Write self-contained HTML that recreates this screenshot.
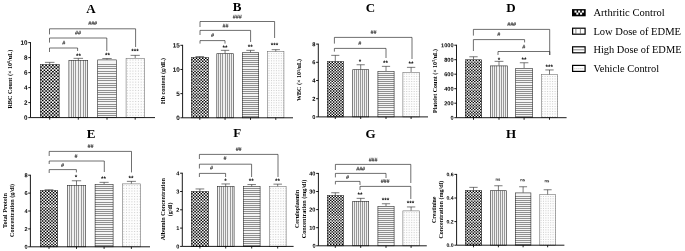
<!DOCTYPE html>
<html><head><meta charset="utf-8"><title>Figure</title>
<style>html,body{margin:0;padding:0;background:#fff}svg{display:block}</style></head>
<body>
<svg width="685" height="251" viewBox="0 0 685 251">
<defs></defs>
<rect width="685" height="251" fill="#fff"/>
<g>
<text x="91" y="13" font-family='"Liberation Serif", serif' font-weight="bold" font-size="13" text-anchor="middle" fill="#000">A</text>
<svg x="40" y="64" width="19.4" height="53.6" overflow="hidden"><rect width="19.4" height="53.6" fill="#fff"/><path d="M2.7 0.6V53.6M6.1 0.6V53.6M9.5 0.6V53.6M12.9 0.6V53.6M16.3 0.6V53.6M19.7 0.6V53.6" stroke="#000" stroke-width="1.68" stroke-dasharray="1.57 1.63" fill="none"/><path d="M1 0.6V53.6M4.4 0.6V53.6M7.8 0.6V53.6M11.2 0.6V53.6M14.6 0.6V53.6M18 0.6V53.6M21.4 0.6V53.6" stroke="#000" stroke-width="1.68" stroke-dasharray="1.57 1.63" stroke-dashoffset="1.6" fill="none"/></svg>
<rect x="40.3" y="64.3" width="18.8" height="53.3" fill="none" stroke="#2a2a2a" stroke-width="0.6"/>
<path d="M49.7 64V62.35M44.95 62.35H54.45" stroke="#222" stroke-width="0.6" fill="none"/>
<path d="M49.7 117.6v2.1" stroke="#000" stroke-width="0.85"/>
<svg x="68.6" y="60" width="19.4" height="57.6" overflow="hidden"><rect width="19.4" height="57.6" fill="#f0f0f0"/><path d="M2.9 0V57.6M4.9 0V57.6M6.9 0V57.6M9.9 0V57.6M11.9 0V57.6M14.9 0V57.6M16.9 0V57.6" stroke="#999" stroke-width="1" fill="none"/></svg>
<rect x="68.9" y="60.3" width="18.8" height="57.3" fill="none" stroke="#2a2a2a" stroke-width="0.6"/>
<path d="M78.3 60V58.35M73.55 58.35H83.05" stroke="#222" stroke-width="0.6" fill="none"/>
<path d="M78.3 117.6v2.1" stroke="#000" stroke-width="0.85"/>
<text transform="translate(78.4 58.1) rotate(0.03)" font-family='"Liberation Sans", sans-serif' font-weight="bold" font-size="6.4" text-anchor="middle" fill="#000">**</text>
<svg x="97.4" y="59.6" width="19.2" height="58" overflow="hidden"><rect width="19.2" height="58" fill="#f4f4f4"/><path d="M0 4.9H19.2M0 6.9H19.2M0 8.9H19.2M0 11.9H19.2M0 13.9H19.2M0 16.9H19.2M0 18.9H19.2M0 20.9H19.2M0 23.9H19.2M0 25.9H19.2M0 27.9H19.2M0 30.9H19.2M0 32.9H19.2M0 34.9H19.2M0 37.9H19.2M0 39.9H19.2M0 41.9H19.2M0 44.9H19.2M0 46.9H19.2M0 48.9H19.2M0 51.9H19.2M0 53.9H19.2M0 55.9H19.2" stroke="#909090" stroke-width="1" fill="none"/></svg>
<rect x="97.7" y="59.9" width="18.6" height="57.7" fill="none" stroke="#2a2a2a" stroke-width="0.6"/>
<path d="M107 59.6V58.55M102.3 58.55H111.7" stroke="#222" stroke-width="0.6" fill="none"/>
<path d="M107 117.6v2.1" stroke="#000" stroke-width="0.85"/>
<text transform="translate(107.4 57.3) rotate(0.03)" font-family='"Liberation Sans", sans-serif' font-weight="bold" font-size="6.4" text-anchor="middle" fill="#000">**</text>
<svg x="125.8" y="58" width="18.8" height="59.6" overflow="hidden"><rect width="18.8" height="59.6" fill="#fdfdfd"/><path d="M1.6 1.6V59.6M4.36 1.6V59.6M7.12 1.6V59.6M9.89 1.6V59.6M12.65 1.6V59.6M15.41 1.6V59.6M18.17 1.6V59.6" stroke="#c4c4c4" stroke-width="0.9" stroke-dasharray="0.9 1.86" fill="none"/></svg>
<rect x="126.08" y="58.27" width="18.25" height="59.32" fill="none" stroke="#666" stroke-width="0.55"/>
<path d="M135.2 58V55.35M130.59 55.35H139.81" stroke="#222" stroke-width="0.6" fill="none"/>
<path d="M135.2 117.6v2.1" stroke="#000" stroke-width="0.85"/>
<text transform="translate(135 53.3) rotate(0.03)" font-family='"Liberation Sans", sans-serif' font-weight="bold" font-size="6.4" text-anchor="middle" fill="#000">***</text>
<path d="M30.5 42.15V117.6H155" stroke="#000" stroke-width="0.9" fill="none"/>
<path d="M28.3 117.6H30.5" stroke="#000" stroke-width="0.9"/>
<text transform="translate(27.6 119.87) rotate(0.03)" font-family='"Liberation Sans", sans-serif' font-weight="bold" font-size="6.343999999999999" text-anchor="end" fill="#000">0</text>
<path d="M28.3 102.6H30.5" stroke="#000" stroke-width="0.9"/>
<text transform="translate(27.6 104.87) rotate(0.03)" font-family='"Liberation Sans", sans-serif' font-weight="bold" font-size="6.343999999999999" text-anchor="end" fill="#000">2</text>
<path d="M28.3 87.6H30.5" stroke="#000" stroke-width="0.9"/>
<text transform="translate(27.6 89.87) rotate(0.03)" font-family='"Liberation Sans", sans-serif' font-weight="bold" font-size="6.343999999999999" text-anchor="end" fill="#000">4</text>
<path d="M28.3 72.6H30.5" stroke="#000" stroke-width="0.9"/>
<text transform="translate(27.6 74.87) rotate(0.03)" font-family='"Liberation Sans", sans-serif' font-weight="bold" font-size="6.343999999999999" text-anchor="end" fill="#000">6</text>
<path d="M28.3 57.6H30.5" stroke="#000" stroke-width="0.9"/>
<text transform="translate(27.6 59.87) rotate(0.03)" font-family='"Liberation Sans", sans-serif' font-weight="bold" font-size="6.343999999999999" text-anchor="end" fill="#000">8</text>
<path d="M28.3 42.6H30.5" stroke="#000" stroke-width="0.9"/>
<text transform="translate(27.6 44.87) rotate(0.03)" font-family='"Liberation Sans", sans-serif' font-weight="bold" font-size="6.343999999999999" text-anchor="end" fill="#000">10</text>
<path d="M49.5 34.4V28.8H135.6V47" stroke="#222" stroke-width="0.65" fill="none"/>
<text transform="translate(92.6 25) rotate(0.03)" font-family='"Liberation Sans", sans-serif' font-style="italic" font-size="5.25" text-anchor="middle" fill="#000" stroke="#000" stroke-width="0.12">###</text>
<path d="M49.5 42.6V38H106.8V51" stroke="#222" stroke-width="0.65" fill="none"/>
<text transform="translate(78 34.6) rotate(0.03)" font-family='"Liberation Sans", sans-serif' font-style="italic" font-size="5.25" text-anchor="middle" fill="#000" stroke="#000" stroke-width="0.12">##</text>
<path d="M49.5 52V48H77.6V51" stroke="#222" stroke-width="0.65" fill="none"/>
<text transform="translate(63.6 44.6) rotate(0.03)" font-family='"Liberation Sans", sans-serif' font-style="italic" font-size="5.25" text-anchor="middle" fill="#000" stroke="#000" stroke-width="0.12">#</text>
<text transform="translate(12 79.1) rotate(-90)" font-family='"Liberation Serif", serif' font-weight="bold" font-size="5.95" text-anchor="middle" textLength="59" lengthAdjust="spacingAndGlyphs" fill="#000">RBC Count (× 10<tspan dy="-1.9" font-size="3.8">6</tspan><tspan dy="1.9">/uL)</tspan></text>
</g>
<g>
<text x="237" y="11" font-family='"Liberation Serif", serif' font-weight="bold" font-size="13" text-anchor="middle" fill="#000">B</text>
<svg x="191" y="57" width="17.6" height="60.8" overflow="hidden"><rect width="17.6" height="60.8" fill="#fff"/><path d="M2.46 0.6V60.8M5.55 0.6V60.8M8.63 0.6V60.8M11.72 0.6V60.8M14.8 0.6V60.8M17.89 0.6V60.8" stroke="#000" stroke-width="1.52" stroke-dasharray="1.42 1.48" fill="none"/><path d="M0.92 0.6V60.8M4.01 0.6V60.8M7.09 0.6V60.8M10.17 0.6V60.8M13.26 0.6V60.8M16.34 0.6V60.8M19.43 0.6V60.8" stroke="#000" stroke-width="1.52" stroke-dasharray="1.42 1.48" stroke-dashoffset="1.45" fill="none"/></svg>
<rect x="191.3" y="57.3" width="17" height="60.5" fill="none" stroke="#2a2a2a" stroke-width="0.6"/>
<path d="M199.8 57V56.55M195.49 56.55H204.11" stroke="#222" stroke-width="0.6" fill="none"/>
<path d="M199.8 117.8v2.1" stroke="#000" stroke-width="0.85"/>
<svg x="216.5" y="53.4" width="17.1" height="64.4" overflow="hidden"><rect width="17.1" height="64.4" fill="#f0f0f0"/><path d="M2 0V64.4M4 0V64.4M6 0V64.4M9 0V64.4M11 0V64.4M13 0V64.4M15 0V64.4" stroke="#999" stroke-width="1" fill="none"/></svg>
<rect x="216.8" y="53.7" width="16.5" height="64.1" fill="none" stroke="#2a2a2a" stroke-width="0.6"/>
<path d="M225.05 53.4V50.35M220.86 50.35H229.24" stroke="#222" stroke-width="0.6" fill="none"/>
<path d="M225.05 117.8v2.1" stroke="#000" stroke-width="0.85"/>
<text transform="translate(225 49.7) rotate(0.03)" font-family='"Liberation Sans", sans-serif' font-weight="bold" font-size="6.4" text-anchor="middle" fill="#000">**</text>
<svg x="242" y="52.4" width="17" height="65.4" overflow="hidden"><rect width="17" height="65.4" fill="#f4f4f4"/><path d="M0 2.1H17M0 4.1H17M0 6.1H17M0 8.1H17M0 10.1H17M0 12.1H17M0 14.1H17M0 17.1H17M0 19.1H17M0 21.1H17M0 23.1H17M0 25.1H17M0 27.1H17M0 29.1H17M0 31.1H17M0 33.1H17M0 35.1H17M0 37.1H17M0 39.1H17M0 41.1H17M0 44.1H17M0 46.1H17M0 48.1H17M0 50.1H17M0 52.1H17M0 54.1H17M0 56.1H17M0 58.1H17M0 60.1H17M0 62.1H17M0 64.1H17" stroke="#909090" stroke-width="1" fill="none"/></svg>
<rect x="242.3" y="52.7" width="16.4" height="65.1" fill="none" stroke="#2a2a2a" stroke-width="0.6"/>
<path d="M250.5 52.4V50.35M246.34 50.35H254.66" stroke="#222" stroke-width="0.6" fill="none"/>
<path d="M250.5 117.8v2.1" stroke="#000" stroke-width="0.85"/>
<text transform="translate(250.3 49.1) rotate(0.03)" font-family='"Liberation Sans", sans-serif' font-weight="bold" font-size="6.4" text-anchor="middle" fill="#000">**</text>
<svg x="267.4" y="51.4" width="16.8" height="66.4" overflow="hidden"><rect width="16.8" height="66.4" fill="#fdfdfd"/><path d="M1.6 1.6V66.4M4.07 1.6V66.4M6.54 1.6V66.4M9 1.6V66.4M11.47 1.6V66.4M13.94 1.6V66.4M16.41 1.6V66.4" stroke="#c4c4c4" stroke-width="0.9" stroke-dasharray="0.9 1.57" fill="none"/></svg>
<rect x="267.67" y="51.67" width="16.25" height="66.12" fill="none" stroke="#666" stroke-width="0.55"/>
<path d="M275.8 51.4V49.65M271.68 49.65H279.92" stroke="#222" stroke-width="0.6" fill="none"/>
<path d="M275.8 117.8v2.1" stroke="#000" stroke-width="0.85"/>
<text transform="translate(274.5 47.3) rotate(0.03)" font-family='"Liberation Sans", sans-serif' font-weight="bold" font-size="6.4" text-anchor="middle" fill="#000">***</text>
<path d="M182.6 44.85V117.8H293" stroke="#000" stroke-width="0.9" fill="none"/>
<path d="M180.4 117.8H182.6" stroke="#000" stroke-width="0.9"/>
<text transform="translate(179.7 120.07) rotate(0.03)" font-family='"Liberation Sans", sans-serif' font-weight="bold" font-size="6.343999999999999" text-anchor="end" fill="#000">0</text>
<path d="M180.4 93.63H182.6" stroke="#000" stroke-width="0.9"/>
<text transform="translate(179.7 95.9) rotate(0.03)" font-family='"Liberation Sans", sans-serif' font-weight="bold" font-size="6.343999999999999" text-anchor="end" fill="#000">5</text>
<path d="M180.4 69.47H182.6" stroke="#000" stroke-width="0.9"/>
<text transform="translate(179.7 71.74) rotate(0.03)" font-family='"Liberation Sans", sans-serif' font-weight="bold" font-size="6.343999999999999" text-anchor="end" fill="#000">10</text>
<path d="M180.4 45.3H182.6" stroke="#000" stroke-width="0.9"/>
<text transform="translate(179.7 47.57) rotate(0.03)" font-family='"Liberation Sans", sans-serif' font-weight="bold" font-size="6.343999999999999" text-anchor="end" fill="#000">15</text>
<path d="M200 27V21.5H274.6V38" stroke="#222" stroke-width="0.65" fill="none"/>
<text transform="translate(237.2 18.6) rotate(0.03)" font-family='"Liberation Sans", sans-serif' font-style="italic" font-size="5.25" text-anchor="middle" fill="#000" stroke="#000" stroke-width="0.12">###</text>
<path d="M200 35V30.4H250.6V42" stroke="#222" stroke-width="0.65" fill="none"/>
<text transform="translate(225.4 27.4) rotate(0.03)" font-family='"Liberation Sans", sans-serif' font-style="italic" font-size="5.25" text-anchor="middle" fill="#000" stroke="#000" stroke-width="0.12">##</text>
<path d="M200 43.6V40.6H225V43.6" stroke="#222" stroke-width="0.65" fill="none"/>
<text transform="translate(212.4 37) rotate(0.03)" font-family='"Liberation Sans", sans-serif' font-style="italic" font-size="5.25" text-anchor="middle" fill="#000" stroke="#000" stroke-width="0.12">#</text>
<text transform="translate(165.1 81) rotate(-90)" font-family='"Liberation Serif", serif' font-weight="bold" font-size="5.95" text-anchor="middle" textLength="46" lengthAdjust="spacingAndGlyphs" fill="#000">Hb content (g/dL)</text>
</g>
<g>
<text x="370.5" y="12.4" font-family='"Liberation Serif", serif' font-weight="bold" font-size="13" text-anchor="middle" fill="#000">C</text>
<svg x="327" y="61" width="16.6" height="55.9" overflow="hidden"><rect width="16.6" height="55.9" fill="#fff"/><path d="M2.33 0.6V55.9M5.24 0.6V55.9M8.15 0.6V55.9M11.06 0.6V55.9M13.97 0.6V55.9M16.88 0.6V55.9" stroke="#000" stroke-width="1.44" stroke-dasharray="1.34 1.4" fill="none"/><path d="M0.88 0.6V55.9M3.79 0.6V55.9M6.7 0.6V55.9M9.61 0.6V55.9M12.51 0.6V55.9M15.42 0.6V55.9M18.33 0.6V55.9" stroke="#000" stroke-width="1.44" stroke-dasharray="1.34 1.4" stroke-dashoffset="1.37" fill="none"/></svg>
<rect x="327.3" y="61.3" width="16" height="55.6" fill="none" stroke="#2a2a2a" stroke-width="0.6"/>
<path d="M335.3 61V55.35M331.23 55.35H339.37" stroke="#222" stroke-width="0.6" fill="none"/>
<path d="M335.3 116.9v2.1" stroke="#000" stroke-width="0.85"/>
<svg x="352.4" y="69.4" width="16.6" height="47.5" overflow="hidden"><rect width="16.6" height="47.5" fill="#f0f0f0"/><path d="M2.1 0V47.5M4.1 0V47.5M6.1 0V47.5M8.1 0V47.5M10.1 0V47.5M12.1 0V47.5M14.1 0V47.5" stroke="#999" stroke-width="1" fill="none"/></svg>
<rect x="352.7" y="69.7" width="16" height="47.2" fill="none" stroke="#2a2a2a" stroke-width="0.6"/>
<path d="M360.7 69.4V64.75M356.63 64.75H364.77" stroke="#222" stroke-width="0.6" fill="none"/>
<path d="M360.7 116.9v2.1" stroke="#000" stroke-width="0.85"/>
<text transform="translate(360 63.7) rotate(0.03)" font-family='"Liberation Sans", sans-serif' font-weight="bold" font-size="6.4" text-anchor="middle" fill="#000">*</text>
<svg x="377.6" y="71" width="16.8" height="45.9" overflow="hidden"><rect width="16.8" height="45.9" fill="#f4f4f4"/><path d="M0 2.5H16.8M0 4.5H16.8M0 6.5H16.8M0 8.5H16.8M0 10.5H16.8M0 12.5H16.8M0 14.5H16.8M0 16.5H16.8M0 18.5H16.8M0 20.5H16.8M0 22.5H16.8M0 24.5H16.8M0 26.5H16.8M0 28.5H16.8M0 30.5H16.8M0 32.5H16.8M0 34.5H16.8M0 36.5H16.8M0 39.5H16.8M0 41.5H16.8M0 43.5H16.8" stroke="#909090" stroke-width="1" fill="none"/></svg>
<rect x="377.9" y="71.3" width="16.2" height="45.6" fill="none" stroke="#2a2a2a" stroke-width="0.6"/>
<path d="M386 71V66.35M381.88 66.35H390.12" stroke="#222" stroke-width="0.6" fill="none"/>
<path d="M386 116.9v2.1" stroke="#000" stroke-width="0.85"/>
<text transform="translate(385.6 65.1) rotate(0.03)" font-family='"Liberation Sans", sans-serif' font-weight="bold" font-size="6.4" text-anchor="middle" fill="#000">**</text>
<svg x="402.6" y="72" width="17" height="44.9" overflow="hidden"><rect width="17" height="44.9" fill="#fdfdfd"/><path d="M1.6 1.6V44.9M4.1 1.6V44.9M6.59 1.6V44.9M9.09 1.6V44.9M11.59 1.6V44.9M14.09 1.6V44.9M16.58 1.6V44.9" stroke="#c4c4c4" stroke-width="0.9" stroke-dasharray="0.9 1.6" fill="none"/></svg>
<rect x="402.88" y="72.28" width="16.45" height="44.63" fill="none" stroke="#666" stroke-width="0.55"/>
<path d="M411.1 72V67.35M406.94 67.35H415.27" stroke="#222" stroke-width="0.6" fill="none"/>
<path d="M411.1 116.9v2.1" stroke="#000" stroke-width="0.85"/>
<text transform="translate(411 65.7) rotate(0.03)" font-family='"Liberation Sans", sans-serif' font-weight="bold" font-size="6.4" text-anchor="middle" fill="#000">**</text>
<path d="M318.3 43.65V116.9H428" stroke="#000" stroke-width="0.9" fill="none"/>
<path d="M316.1 116.9H318.3" stroke="#000" stroke-width="0.9"/>
<text transform="translate(315.4 118.95) rotate(0.03)" font-family='"Liberation Sans", sans-serif' font-weight="bold" font-size="5.720000000000001" text-anchor="end" fill="#000">0</text>
<path d="M316.1 98.7H318.3" stroke="#000" stroke-width="0.9"/>
<text transform="translate(315.4 100.75) rotate(0.03)" font-family='"Liberation Sans", sans-serif' font-weight="bold" font-size="5.720000000000001" text-anchor="end" fill="#000">2</text>
<path d="M316.1 80.5H318.3" stroke="#000" stroke-width="0.9"/>
<text transform="translate(315.4 82.55) rotate(0.03)" font-family='"Liberation Sans", sans-serif' font-weight="bold" font-size="5.720000000000001" text-anchor="end" fill="#000">4</text>
<path d="M316.1 62.3H318.3" stroke="#000" stroke-width="0.9"/>
<text transform="translate(315.4 64.35) rotate(0.03)" font-family='"Liberation Sans", sans-serif' font-weight="bold" font-size="5.720000000000001" text-anchor="end" fill="#000">6</text>
<path d="M316.1 44.1H318.3" stroke="#000" stroke-width="0.9"/>
<text transform="translate(315.4 46.15) rotate(0.03)" font-family='"Liberation Sans", sans-serif' font-weight="bold" font-size="5.720000000000001" text-anchor="end" fill="#000">8</text>
<path d="M334.4 43.6V37.4H412V59" stroke="#222" stroke-width="0.65" fill="none"/>
<text transform="translate(373.4 34) rotate(0.03)" font-family='"Liberation Sans", sans-serif' font-style="italic" font-size="5.25" text-anchor="middle" fill="#000" stroke="#000" stroke-width="0.12">##</text>
<path d="M334.4 51.6V48.4H386V58" stroke="#222" stroke-width="0.65" fill="none"/>
<text transform="translate(359.6 45) rotate(0.03)" font-family='"Liberation Sans", sans-serif' font-style="italic" font-size="5.25" text-anchor="middle" fill="#000" stroke="#000" stroke-width="0.12">#</text>
<text transform="translate(301.4 80) rotate(-90)" font-family='"Liberation Serif", serif' font-weight="bold" font-size="5.95" text-anchor="middle" textLength="42" lengthAdjust="spacingAndGlyphs" fill="#000">WBC (× 10<tspan dy="-1.9" font-size="3.8">3</tspan><tspan dy="1.9">/uL)</tspan></text>
</g>
<g>
<text x="511" y="11.6" font-family='"Liberation Serif", serif' font-weight="bold" font-size="13" text-anchor="middle" fill="#000">D</text>
<svg x="465" y="59.4" width="17" height="58.3" overflow="hidden"><rect width="17" height="58.3" fill="#fff"/><path d="M2.38 0.6V58.3M5.36 0.6V58.3M8.34 0.6V58.3M11.32 0.6V58.3M14.3 0.6V58.3M17.28 0.6V58.3" stroke="#000" stroke-width="1.47" stroke-dasharray="1.37 1.43" fill="none"/><path d="M0.89 0.6V58.3M3.87 0.6V58.3M6.85 0.6V58.3M9.83 0.6V58.3M12.81 0.6V58.3M15.79 0.6V58.3M18.77 0.6V58.3" stroke="#000" stroke-width="1.47" stroke-dasharray="1.37 1.43" stroke-dashoffset="1.4" fill="none"/></svg>
<rect x="465.3" y="59.7" width="16.4" height="58" fill="none" stroke="#2a2a2a" stroke-width="0.6"/>
<path d="M473.5 59.4V56.75M469.33 56.75H477.67" stroke="#222" stroke-width="0.6" fill="none"/>
<path d="M473.5 117.7v2.1" stroke="#000" stroke-width="0.85"/>
<svg x="490" y="65.6" width="18" height="52.1" overflow="hidden"><rect width="18" height="52.1" fill="#f0f0f0"/><path d="M2.5 0V52.1M4.5 0V52.1M6.5 0V52.1M9.5 0V52.1M11.5 0V52.1M13.5 0V52.1M15.5 0V52.1" stroke="#999" stroke-width="1" fill="none"/></svg>
<rect x="490.3" y="65.9" width="17.4" height="51.8" fill="none" stroke="#2a2a2a" stroke-width="0.6"/>
<path d="M499 65.6V61.35M494.59 61.35H503.41" stroke="#222" stroke-width="0.6" fill="none"/>
<path d="M499 117.7v2.1" stroke="#000" stroke-width="0.85"/>
<text transform="translate(499 62.1) rotate(0.03)" font-family='"Liberation Sans", sans-serif' font-weight="bold" font-size="6.4" text-anchor="middle" fill="#000">*</text>
<svg x="515.4" y="68" width="17.4" height="49.7" overflow="hidden"><rect width="17.4" height="49.7" fill="#f4f4f4"/><path d="M0 2.5H17.4M0 4.5H17.4M0 6.5H17.4M0 8.5H17.4M0 10.5H17.4M0 12.5H17.4M0 14.5H17.4M0 17.5H17.4M0 19.5H17.4M0 21.5H17.4M0 23.5H17.4M0 25.5H17.4M0 27.5H17.4M0 29.5H17.4M0 31.5H17.4M0 34.5H17.4M0 36.5H17.4M0 38.5H17.4M0 40.5H17.4M0 42.5H17.4M0 44.5H17.4M0 46.5H17.4M0 48.5H17.4" stroke="#909090" stroke-width="1" fill="none"/></svg>
<rect x="515.7" y="68.3" width="16.8" height="49.4" fill="none" stroke="#2a2a2a" stroke-width="0.6"/>
<path d="M524.1 68V62.75M519.84 62.75H528.36" stroke="#222" stroke-width="0.6" fill="none"/>
<path d="M524.1 117.7v2.1" stroke="#000" stroke-width="0.85"/>
<text transform="translate(524 61.7) rotate(0.03)" font-family='"Liberation Sans", sans-serif' font-weight="bold" font-size="6.4" text-anchor="middle" fill="#000">**</text>
<svg x="541" y="74.4" width="17" height="43.3" overflow="hidden"><rect width="17" height="43.3" fill="#fdfdfd"/><path d="M1.6 1.6V43.3M4.1 1.6V43.3M6.59 1.6V43.3M9.09 1.6V43.3M11.59 1.6V43.3M14.09 1.6V43.3M16.58 1.6V43.3" stroke="#c4c4c4" stroke-width="0.9" stroke-dasharray="0.9 1.6" fill="none"/></svg>
<rect x="541.27" y="74.68" width="16.45" height="43.02" fill="none" stroke="#666" stroke-width="0.55"/>
<path d="M549.5 74.4V69.95M545.34 69.95H553.66" stroke="#222" stroke-width="0.6" fill="none"/>
<path d="M549.5 117.7v2.1" stroke="#000" stroke-width="0.85"/>
<text transform="translate(549.2 68.9) rotate(0.03)" font-family='"Liberation Sans", sans-serif' font-weight="bold" font-size="6.4" text-anchor="middle" fill="#000">***</text>
<path d="M456.5 44.75V117.7H566.6" stroke="#000" stroke-width="0.9" fill="none"/>
<path d="M454.3 117.7H456.5" stroke="#000" stroke-width="0.9"/>
<text transform="translate(453.6 119.71) rotate(0.03)" font-family='"Liberation Sans", sans-serif' font-weight="bold" font-size="5.6160000000000005" text-anchor="end" fill="#000">0</text>
<path d="M454.3 103.2H456.5" stroke="#000" stroke-width="0.9"/>
<text transform="translate(453.6 105.21) rotate(0.03)" font-family='"Liberation Sans", sans-serif' font-weight="bold" font-size="5.6160000000000005" text-anchor="end" fill="#000">200</text>
<path d="M454.3 88.7H456.5" stroke="#000" stroke-width="0.9"/>
<text transform="translate(453.6 90.71) rotate(0.03)" font-family='"Liberation Sans", sans-serif' font-weight="bold" font-size="5.6160000000000005" text-anchor="end" fill="#000">400</text>
<path d="M454.3 74.2H456.5" stroke="#000" stroke-width="0.9"/>
<text transform="translate(453.6 76.21) rotate(0.03)" font-family='"Liberation Sans", sans-serif' font-weight="bold" font-size="5.6160000000000005" text-anchor="end" fill="#000">600</text>
<path d="M454.3 59.7H456.5" stroke="#000" stroke-width="0.9"/>
<text transform="translate(453.6 61.71) rotate(0.03)" font-family='"Liberation Sans", sans-serif' font-weight="bold" font-size="5.6160000000000005" text-anchor="end" fill="#000">800</text>
<path d="M454.3 45.2H456.5" stroke="#000" stroke-width="0.9"/>
<text transform="translate(453.6 47.21) rotate(0.03)" font-family='"Liberation Sans", sans-serif' font-weight="bold" font-size="5.6160000000000005" text-anchor="end" fill="#000">1000</text>
<path d="M473.4 35.6V29.4H549.7V55" stroke="#222" stroke-width="0.65" fill="none"/>
<text transform="translate(511.6 26) rotate(0.03)" font-family='"Liberation Sans", sans-serif' font-style="italic" font-size="5.25" text-anchor="middle" fill="#000" stroke="#000" stroke-width="0.12">###</text>
<path d="M473.4 51V39.6H524.6V42.4" stroke="#222" stroke-width="0.65" fill="none"/>
<text transform="translate(498.6 36) rotate(0.03)" font-family='"Liberation Sans", sans-serif' font-style="italic" font-size="5.25" text-anchor="middle" fill="#000" stroke="#000" stroke-width="0.12">#</text>
<path d="M498 55V51.5H549.8V55" stroke="#222" stroke-width="0.65" fill="none"/>
<text transform="translate(523.6 48.4) rotate(0.03)" font-family='"Liberation Sans", sans-serif' font-style="italic" font-size="5.25" text-anchor="middle" fill="#000" stroke="#000" stroke-width="0.12">#</text>
<text transform="translate(437.1 81) rotate(-90)" font-family='"Liberation Serif", serif' font-weight="bold" font-size="5.95" text-anchor="middle" textLength="64" lengthAdjust="spacingAndGlyphs" fill="#000">Platelet Count (× 10<tspan dy="-1.9" font-size="3.8">3</tspan><tspan dy="1.9">/uL)</tspan></text>
</g>
<g>
<text x="91" y="138" font-family='"Liberation Serif", serif' font-weight="bold" font-size="13" text-anchor="middle" fill="#000">E</text>
<svg x="40" y="190" width="18" height="56.8" overflow="hidden"><rect width="18" height="56.8" fill="#fff"/><path d="M2.52 0.6V56.8M5.67 0.6V56.8M8.83 0.6V56.8M11.98 0.6V56.8M15.13 0.6V56.8M18.29 0.6V56.8" stroke="#000" stroke-width="1.56" stroke-dasharray="1.45 1.51" fill="none"/><path d="M0.94 0.6V56.8M4.09 0.6V56.8M7.25 0.6V56.8M10.4 0.6V56.8M13.56 0.6V56.8M16.71 0.6V56.8M19.87 0.6V56.8" stroke="#000" stroke-width="1.56" stroke-dasharray="1.45 1.51" stroke-dashoffset="1.48" fill="none"/></svg>
<rect x="40.3" y="190.3" width="17.4" height="56.5" fill="none" stroke="#2a2a2a" stroke-width="0.6"/>
<path d="M49 190V189.75M44.59 189.75H53.41" stroke="#222" stroke-width="0.6" fill="none"/>
<path d="M49 246.8v2.1" stroke="#000" stroke-width="0.85"/>
<svg x="67" y="185" width="19" height="61.8" overflow="hidden"><rect width="19" height="61.8" fill="#f0f0f0"/><path d="M2.5 0V61.8M4.5 0V61.8M7.5 0V61.8M9.5 0V61.8M11.5 0V61.8M14.5 0V61.8M16.5 0V61.8" stroke="#999" stroke-width="1" fill="none"/></svg>
<rect x="67.3" y="185.3" width="18.4" height="61.5" fill="none" stroke="#2a2a2a" stroke-width="0.6"/>
<path d="M76.5 185V180.75M71.84 180.75H81.16" stroke="#222" stroke-width="0.6" fill="none"/>
<path d="M76.5 246.8v2.1" stroke="#000" stroke-width="0.85"/>
<text transform="translate(76 179.3) rotate(0.03)" font-family='"Liberation Sans", sans-serif' font-weight="bold" font-size="6.4" text-anchor="middle" fill="#000">*</text>
<svg x="94.8" y="184" width="18.6" height="62.8" overflow="hidden"><rect width="18.6" height="62.8" fill="#f4f4f4"/><path d="M0 2.5H18.6M0 4.5H18.6M0 6.5H18.6M0 9.5H18.6M0 11.5H18.6M0 13.5H18.6M0 15.5H18.6M0 18.5H18.6M0 20.5H18.6M0 22.5H18.6M0 25.5H18.6M0 27.5H18.6M0 29.5H18.6M0 31.5H18.6M0 34.5H18.6M0 36.5H18.6M0 38.5H18.6M0 40.5H18.6M0 43.5H18.6M0 45.5H18.6M0 47.5H18.6M0 50.5H18.6M0 52.5H18.6M0 54.5H18.6M0 56.5H18.6M0 59.5H18.6M0 61.5H18.6" stroke="#909090" stroke-width="1" fill="none"/></svg>
<rect x="95.1" y="184.3" width="18" height="62.5" fill="none" stroke="#2a2a2a" stroke-width="0.6"/>
<path d="M104.1 184V182.35M99.54 182.35H108.66" stroke="#222" stroke-width="0.6" fill="none"/>
<path d="M104.1 246.8v2.1" stroke="#000" stroke-width="0.85"/>
<text transform="translate(103.6 180.7) rotate(0.03)" font-family='"Liberation Sans", sans-serif' font-weight="bold" font-size="6.4" text-anchor="middle" fill="#000">**</text>
<svg x="122.2" y="183.6" width="18.4" height="63.2" overflow="hidden"><rect width="18.4" height="63.2" fill="#fdfdfd"/><path d="M1.6 1.6V63.2M4.3 1.6V63.2M7.01 1.6V63.2M9.71 1.6V63.2M12.41 1.6V63.2M15.12 1.6V63.2M17.82 1.6V63.2" stroke="#c4c4c4" stroke-width="0.9" stroke-dasharray="0.9 1.8" fill="none"/></svg>
<rect x="122.48" y="183.88" width="17.85" height="62.93" fill="none" stroke="#666" stroke-width="0.55"/>
<path d="M131.4 183.6V181.35M126.89 181.35H135.91" stroke="#222" stroke-width="0.6" fill="none"/>
<path d="M131.4 246.8v2.1" stroke="#000" stroke-width="0.85"/>
<text transform="translate(131 180.3) rotate(0.03)" font-family='"Liberation Sans", sans-serif' font-weight="bold" font-size="6.4" text-anchor="middle" fill="#000">**</text>
<path d="M30.4 174.75V246.8H150" stroke="#000" stroke-width="0.9" fill="none"/>
<path d="M28.2 246.8H30.4" stroke="#000" stroke-width="0.9"/>
<text transform="translate(27.5 248.81) rotate(0.03)" font-family='"Liberation Sans", sans-serif' font-weight="bold" font-size="5.6160000000000005" text-anchor="end" fill="#000">0</text>
<path d="M28.2 228.9H30.4" stroke="#000" stroke-width="0.9"/>
<text transform="translate(27.5 230.91) rotate(0.03)" font-family='"Liberation Sans", sans-serif' font-weight="bold" font-size="5.6160000000000005" text-anchor="end" fill="#000">2</text>
<path d="M28.2 211H30.4" stroke="#000" stroke-width="0.9"/>
<text transform="translate(27.5 213.01) rotate(0.03)" font-family='"Liberation Sans", sans-serif' font-weight="bold" font-size="5.6160000000000005" text-anchor="end" fill="#000">4</text>
<path d="M28.2 193.1H30.4" stroke="#000" stroke-width="0.9"/>
<text transform="translate(27.5 195.11) rotate(0.03)" font-family='"Liberation Sans", sans-serif' font-weight="bold" font-size="5.6160000000000005" text-anchor="end" fill="#000">6</text>
<path d="M28.2 175.2H30.4" stroke="#000" stroke-width="0.9"/>
<text transform="translate(27.5 177.21) rotate(0.03)" font-family='"Liberation Sans", sans-serif' font-weight="bold" font-size="5.6160000000000005" text-anchor="end" fill="#000">8</text>
<path d="M49.2 156V151.4H131.5V172.4" stroke="#222" stroke-width="0.65" fill="none"/>
<text transform="translate(90.4 148) rotate(0.03)" font-family='"Liberation Sans", sans-serif' font-style="italic" font-size="5.25" text-anchor="middle" fill="#000" stroke="#000" stroke-width="0.12">##</text>
<path d="M49.2 164V161H104.3V172" stroke="#222" stroke-width="0.65" fill="none"/>
<text transform="translate(76 158) rotate(0.03)" font-family='"Liberation Sans", sans-serif' font-style="italic" font-size="5.25" text-anchor="middle" fill="#000" stroke="#000" stroke-width="0.12">#</text>
<path d="M49.2 173V169.6H76.4V172.4" stroke="#222" stroke-width="0.65" fill="none"/>
<text transform="translate(62.4 167) rotate(0.03)" font-family='"Liberation Sans", sans-serif' font-style="italic" font-size="5.25" text-anchor="middle" fill="#000" stroke="#000" stroke-width="0.12">#</text>
<text transform="translate(6.7 210.6) rotate(-90)" font-family='"Liberation Serif", serif' font-weight="bold" font-size="5.95" text-anchor="middle" textLength="35" lengthAdjust="spacingAndGlyphs" fill="#000">Total Protein</text>
<text transform="translate(14.1 210.5) rotate(-90)" font-family='"Liberation Serif", serif' font-weight="bold" font-size="5.95" text-anchor="middle" textLength="53" lengthAdjust="spacingAndGlyphs" fill="#000">Concentration (g/dl)</text>
</g>
<g>
<text x="237.3" y="137" font-family='"Liberation Serif", serif' font-weight="bold" font-size="13" text-anchor="middle" fill="#000">F</text>
<svg x="191" y="191" width="17.8" height="55.4" overflow="hidden"><rect width="17.8" height="55.4" fill="#fff"/><path d="M2.49 0.6V55.4M5.61 0.6V55.4M8.73 0.6V55.4M11.85 0.6V55.4M14.97 0.6V55.4M18.09 0.6V55.4" stroke="#000" stroke-width="1.54" stroke-dasharray="1.44 1.5" fill="none"/><path d="M0.93 0.6V55.4M4.05 0.6V55.4M7.17 0.6V55.4M10.29 0.6V55.4M13.41 0.6V55.4M16.53 0.6V55.4M19.65 0.6V55.4" stroke="#000" stroke-width="1.54" stroke-dasharray="1.44 1.5" stroke-dashoffset="1.47" fill="none"/></svg>
<rect x="191.3" y="191.3" width="17.2" height="55.1" fill="none" stroke="#2a2a2a" stroke-width="0.6"/>
<path d="M199.9 191V188.95M195.54 188.95H204.26" stroke="#222" stroke-width="0.6" fill="none"/>
<path d="M199.9 246.4v2.1" stroke="#000" stroke-width="0.85"/>
<svg x="217" y="186.3" width="17.4" height="60.1" overflow="hidden"><rect width="17.4" height="60.1" fill="#f0f0f0"/><path d="M2.5 0V60.1M4.5 0V60.1M6.5 0V60.1M8.5 0V60.1M10.5 0V60.1M13.5 0V60.1M15.5 0V60.1" stroke="#999" stroke-width="1" fill="none"/></svg>
<rect x="217.3" y="186.6" width="16.8" height="59.8" fill="none" stroke="#2a2a2a" stroke-width="0.6"/>
<path d="M225.7 186.3V183.95M221.44 183.95H229.96" stroke="#222" stroke-width="0.6" fill="none"/>
<path d="M225.7 246.4v2.1" stroke="#000" stroke-width="0.85"/>
<text transform="translate(225.6 183.1) rotate(0.03)" font-family='"Liberation Sans", sans-serif' font-weight="bold" font-size="6.4" text-anchor="middle" fill="#000">*</text>
<svg x="243" y="186.3" width="17.4" height="60.1" overflow="hidden"><rect width="17.4" height="60.1" fill="#f4f4f4"/><path d="M0 2.2H17.4M0 4.2H17.4M0 6.2H17.4M0 8.2H17.4M0 10.2H17.4M0 13.2H17.4M0 15.2H17.4M0 17.2H17.4M0 19.2H17.4M0 21.2H17.4M0 23.2H17.4M0 25.2H17.4M0 27.2H17.4M0 30.2H17.4M0 32.2H17.4M0 34.2H17.4M0 36.2H17.4M0 38.2H17.4M0 40.2H17.4M0 42.2H17.4M0 44.2H17.4M0 47.2H17.4M0 49.2H17.4M0 51.2H17.4M0 53.2H17.4M0 55.2H17.4M0 57.2H17.4M0 59.2H17.4" stroke="#909090" stroke-width="1" fill="none"/></svg>
<rect x="243.3" y="186.6" width="16.8" height="59.8" fill="none" stroke="#2a2a2a" stroke-width="0.6"/>
<path d="M251.7 186.3V184.55M247.44 184.55H255.96" stroke="#222" stroke-width="0.6" fill="none"/>
<path d="M251.7 246.4v2.1" stroke="#000" stroke-width="0.85"/>
<text transform="translate(251.2 183.1) rotate(0.03)" font-family='"Liberation Sans", sans-serif' font-weight="bold" font-size="6.4" text-anchor="middle" fill="#000">**</text>
<svg x="269" y="186.3" width="17.4" height="60.1" overflow="hidden"><rect width="17.4" height="60.1" fill="#fdfdfd"/><path d="M1.6 1.6V60.1M4.16 1.6V60.1M6.71 1.6V60.1M9.27 1.6V60.1M11.82 1.6V60.1M14.38 1.6V60.1M16.94 1.6V60.1" stroke="#c4c4c4" stroke-width="0.9" stroke-dasharray="0.9 1.66" fill="none"/></svg>
<rect x="269.27" y="186.58" width="16.85" height="59.82" fill="none" stroke="#666" stroke-width="0.55"/>
<path d="M277.7 186.3V184.15M273.44 184.15H281.96" stroke="#222" stroke-width="0.6" fill="none"/>
<path d="M277.7 246.4v2.1" stroke="#000" stroke-width="0.85"/>
<text transform="translate(277.5 183.1) rotate(0.03)" font-family='"Liberation Sans", sans-serif' font-weight="bold" font-size="6.4" text-anchor="middle" fill="#000">**</text>
<path d="M182.3 172.75V246.4H293.6" stroke="#000" stroke-width="0.9" fill="none"/>
<path d="M180.1 246.4H182.3" stroke="#000" stroke-width="0.9"/>
<text transform="translate(179.4 248.41) rotate(0.03)" font-family='"Liberation Sans", sans-serif' font-weight="bold" font-size="5.6160000000000005" text-anchor="end" fill="#000">0</text>
<path d="M180.1 228.1H182.3" stroke="#000" stroke-width="0.9"/>
<text transform="translate(179.4 230.11) rotate(0.03)" font-family='"Liberation Sans", sans-serif' font-weight="bold" font-size="5.6160000000000005" text-anchor="end" fill="#000">1</text>
<path d="M180.1 209.8H182.3" stroke="#000" stroke-width="0.9"/>
<text transform="translate(179.4 211.81) rotate(0.03)" font-family='"Liberation Sans", sans-serif' font-weight="bold" font-size="5.6160000000000005" text-anchor="end" fill="#000">2</text>
<path d="M180.1 191.5H182.3" stroke="#000" stroke-width="0.9"/>
<text transform="translate(179.4 193.51) rotate(0.03)" font-family='"Liberation Sans", sans-serif' font-weight="bold" font-size="5.6160000000000005" text-anchor="end" fill="#000">3</text>
<path d="M180.1 173.2H182.3" stroke="#000" stroke-width="0.9"/>
<text transform="translate(179.4 175.21) rotate(0.03)" font-family='"Liberation Sans", sans-serif' font-weight="bold" font-size="5.6160000000000005" text-anchor="end" fill="#000">4</text>
<path d="M199.4 159V154.4H278V177" stroke="#222" stroke-width="0.65" fill="none"/>
<text transform="translate(238.6 151) rotate(0.03)" font-family='"Liberation Sans", sans-serif' font-style="italic" font-size="5.25" text-anchor="middle" fill="#000" stroke="#000" stroke-width="0.12">##</text>
<path d="M199.4 168.5V164.2H251.6V177" stroke="#222" stroke-width="0.65" fill="none"/>
<text transform="translate(225 160) rotate(0.03)" font-family='"Liberation Sans", sans-serif' font-style="italic" font-size="5.25" text-anchor="middle" fill="#000" stroke="#000" stroke-width="0.12">#</text>
<path d="M199.4 177V173.4H225.6V177" stroke="#222" stroke-width="0.65" fill="none"/>
<text transform="translate(211.4 169.6) rotate(0.03)" font-family='"Liberation Sans", sans-serif' font-style="italic" font-size="5.25" text-anchor="middle" fill="#000" stroke="#000" stroke-width="0.12">#</text>
<text transform="translate(165.1 209.2) rotate(-90)" font-family='"Liberation Serif", serif' font-weight="bold" font-size="5.95" text-anchor="middle" textLength="62.3" lengthAdjust="spacingAndGlyphs" fill="#000">Albumin Concentration</text>
<text transform="translate(171.9 209.4) rotate(-90)" font-family='"Liberation Serif", serif' font-weight="bold" font-size="5.95" text-anchor="middle" textLength="13.6" lengthAdjust="spacingAndGlyphs" fill="#000">(g/dl)</text>
</g>
<g>
<text x="370.5" y="138" font-family='"Liberation Serif", serif' font-weight="bold" font-size="13" text-anchor="middle" fill="#000">G</text>
<svg x="327" y="195" width="16.6" height="50.8" overflow="hidden"><rect width="16.6" height="50.8" fill="#fff"/><path d="M2.33 0.6V50.8M5.24 0.6V50.8M8.15 0.6V50.8M11.06 0.6V50.8M13.97 0.6V50.8M16.88 0.6V50.8" stroke="#000" stroke-width="1.44" stroke-dasharray="1.34 1.4" fill="none"/><path d="M0.88 0.6V50.8M3.79 0.6V50.8M6.7 0.6V50.8M9.61 0.6V50.8M12.51 0.6V50.8M15.42 0.6V50.8M18.33 0.6V50.8" stroke="#000" stroke-width="1.44" stroke-dasharray="1.34 1.4" stroke-dashoffset="1.37" fill="none"/></svg>
<rect x="327.3" y="195.3" width="16" height="50.5" fill="none" stroke="#2a2a2a" stroke-width="0.6"/>
<path d="M335.3 195V192.75M331.23 192.75H339.37" stroke="#222" stroke-width="0.6" fill="none"/>
<path d="M335.3 245.8v2.1" stroke="#000" stroke-width="0.85"/>
<svg x="352.4" y="201" width="16.6" height="44.8" overflow="hidden"><rect width="16.6" height="44.8" fill="#f0f0f0"/><path d="M2.1 0V44.8M4.1 0V44.8M6.1 0V44.8M8.1 0V44.8M10.1 0V44.8M12.1 0V44.8M14.1 0V44.8" stroke="#999" stroke-width="1" fill="none"/></svg>
<rect x="352.7" y="201.3" width="16" height="44.5" fill="none" stroke="#2a2a2a" stroke-width="0.6"/>
<path d="M360.7 201V198.35M356.63 198.35H364.77" stroke="#222" stroke-width="0.6" fill="none"/>
<path d="M360.7 245.8v2.1" stroke="#000" stroke-width="0.85"/>
<text transform="translate(360 196.7) rotate(0.03)" font-family='"Liberation Sans", sans-serif' font-weight="bold" font-size="6.4" text-anchor="middle" fill="#000">**</text>
<svg x="377.6" y="206" width="16.8" height="39.8" overflow="hidden"><rect width="16.8" height="39.8" fill="#f4f4f4"/><path d="M0 2.5H16.8M0 4.5H16.8M0 6.5H16.8M0 8.5H16.8M0 10.5H16.8M0 12.5H16.8M0 14.5H16.8M0 16.5H16.8M0 18.5H16.8M0 20.5H16.8M0 22.5H16.8M0 24.5H16.8M0 26.5H16.8M0 28.5H16.8M0 30.5H16.8M0 32.5H16.8M0 34.5H16.8M0 36.5H16.8" stroke="#909090" stroke-width="1" fill="none"/></svg>
<rect x="377.9" y="206.3" width="16.2" height="39.5" fill="none" stroke="#2a2a2a" stroke-width="0.6"/>
<path d="M386 206V203.75M381.88 203.75H390.12" stroke="#222" stroke-width="0.6" fill="none"/>
<path d="M386 245.8v2.1" stroke="#000" stroke-width="0.85"/>
<text transform="translate(385.6 202.3) rotate(0.03)" font-family='"Liberation Sans", sans-serif' font-weight="bold" font-size="6.4" text-anchor="middle" fill="#000">***</text>
<svg x="402.6" y="210.6" width="17" height="35.2" overflow="hidden"><rect width="17" height="35.2" fill="#fdfdfd"/><path d="M1.6 1.6V35.2M4.1 1.6V35.2M6.59 1.6V35.2M9.09 1.6V35.2M11.59 1.6V35.2M14.09 1.6V35.2M16.58 1.6V35.2" stroke="#c4c4c4" stroke-width="0.9" stroke-dasharray="0.9 1.6" fill="none"/></svg>
<rect x="402.88" y="210.88" width="16.45" height="34.93" fill="none" stroke="#666" stroke-width="0.55"/>
<path d="M411.1 210.6V206.95M406.94 206.95H415.27" stroke="#222" stroke-width="0.6" fill="none"/>
<path d="M411.1 245.8v2.1" stroke="#000" stroke-width="0.85"/>
<text transform="translate(410.6 205.3) rotate(0.03)" font-family='"Liberation Sans", sans-serif' font-weight="bold" font-size="6.4" text-anchor="middle" fill="#000">***</text>
<path d="M318.4 172.95V245.8H426.8" stroke="#000" stroke-width="0.9" fill="none"/>
<path d="M316.2 245.8H318.4" stroke="#000" stroke-width="0.9"/>
<text transform="translate(315.5 247.81) rotate(0.03)" font-family='"Liberation Sans", sans-serif' font-weight="bold" font-size="5.6160000000000005" text-anchor="end" fill="#000">0</text>
<path d="M316.2 227.7H318.4" stroke="#000" stroke-width="0.9"/>
<text transform="translate(315.5 229.71) rotate(0.03)" font-family='"Liberation Sans", sans-serif' font-weight="bold" font-size="5.6160000000000005" text-anchor="end" fill="#000">10</text>
<path d="M316.2 209.6H318.4" stroke="#000" stroke-width="0.9"/>
<text transform="translate(315.5 211.61) rotate(0.03)" font-family='"Liberation Sans", sans-serif' font-weight="bold" font-size="5.6160000000000005" text-anchor="end" fill="#000">20</text>
<path d="M316.2 191.5H318.4" stroke="#000" stroke-width="0.9"/>
<text transform="translate(315.5 193.51) rotate(0.03)" font-family='"Liberation Sans", sans-serif' font-weight="bold" font-size="5.6160000000000005" text-anchor="end" fill="#000">30</text>
<path d="M316.2 173.4H318.4" stroke="#000" stroke-width="0.9"/>
<text transform="translate(315.5 175.41) rotate(0.03)" font-family='"Liberation Sans", sans-serif' font-weight="bold" font-size="5.6160000000000005" text-anchor="end" fill="#000">40</text>
<path d="M335.4 170V164.4H410.8V183" stroke="#222" stroke-width="0.65" fill="none"/>
<text transform="translate(373 161.4) rotate(0.03)" font-family='"Liberation Sans", sans-serif' font-style="italic" font-size="5.25" text-anchor="middle" fill="#000" stroke="#000" stroke-width="0.12">###</text>
<path d="M335.4 177.4V173.4H386V178" stroke="#222" stroke-width="0.65" fill="none"/>
<text transform="translate(360.6 170.4) rotate(0.03)" font-family='"Liberation Sans", sans-serif' font-style="italic" font-size="5.25" text-anchor="middle" fill="#000" stroke="#000" stroke-width="0.12">###</text>
<path d="M335.4 184.4V181.4H360V185" stroke="#222" stroke-width="0.65" fill="none"/>
<text transform="translate(347.4 179) rotate(0.03)" font-family='"Liberation Sans", sans-serif' font-style="italic" font-size="5.25" text-anchor="middle" fill="#000" stroke="#000" stroke-width="0.12">#</text>
<path d="M360 190V186.4H410.8V199" stroke="#222" stroke-width="0.65" fill="none"/>
<text transform="translate(385 183) rotate(0.03)" font-family='"Liberation Sans", sans-serif' font-style="italic" font-size="5.25" text-anchor="middle" fill="#000" stroke="#000" stroke-width="0.12">###</text>
<text transform="translate(299 209) rotate(-90)" font-family='"Liberation Serif", serif' font-weight="bold" font-size="5.95" text-anchor="middle" textLength="38" lengthAdjust="spacingAndGlyphs" fill="#000">Ceruloplasmin</text>
<text transform="translate(305.8 209) rotate(-90)" font-family='"Liberation Serif", serif' font-weight="bold" font-size="5.95" text-anchor="middle" textLength="58.6" lengthAdjust="spacingAndGlyphs" fill="#000">Concentration (mg/dl)</text>
</g>
<g>
<text x="511" y="138" font-family='"Liberation Serif", serif' font-weight="bold" font-size="13" text-anchor="middle" fill="#000">H</text>
<svg x="465" y="190" width="17" height="55.2" overflow="hidden"><rect width="17" height="55.2" fill="#fff"/><path d="M2.38 0.6V55.2M5.36 0.6V55.2M8.34 0.6V55.2M11.32 0.6V55.2M14.3 0.6V55.2M17.28 0.6V55.2" stroke="#000" stroke-width="1.47" stroke-dasharray="1.37 1.43" fill="none"/><path d="M0.89 0.6V55.2M3.87 0.6V55.2M6.85 0.6V55.2M9.83 0.6V55.2M12.81 0.6V55.2M15.79 0.6V55.2M18.77 0.6V55.2" stroke="#000" stroke-width="1.47" stroke-dasharray="1.37 1.43" stroke-dashoffset="1.4" fill="none"/></svg>
<rect x="465.3" y="190.3" width="16.4" height="54.9" fill="none" stroke="#2a2a2a" stroke-width="0.6"/>
<path d="M473.5 190V187.35M469.33 187.35H477.67" stroke="#222" stroke-width="0.6" fill="none"/>
<path d="M473.5 245.2v2.1" stroke="#000" stroke-width="0.85"/>
<svg x="490" y="190.4" width="16.8" height="54.8" overflow="hidden"><rect width="16.8" height="54.8" fill="#f0f0f0"/><path d="M2.5 0V54.8M4.5 0V54.8M6.5 0V54.8M8.5 0V54.8M10.5 0V54.8M12.5 0V54.8M14.5 0V54.8" stroke="#999" stroke-width="1" fill="none"/></svg>
<rect x="490.3" y="190.7" width="16.2" height="54.5" fill="none" stroke="#2a2a2a" stroke-width="0.6"/>
<path d="M498.4 190.4V185.75M494.28 185.75H502.52" stroke="#222" stroke-width="0.6" fill="none"/>
<path d="M498.4 245.2v2.1" stroke="#000" stroke-width="0.85"/>
<text transform="translate(498 180.7) rotate(0.03)" font-family='"Liberation Sans", sans-serif' font-weight="bold" font-size="4.1" text-anchor="middle" fill="#111">ns</text>
<svg x="515" y="192.6" width="16.2" height="52.6" overflow="hidden"><rect width="16.2" height="52.6" fill="#f4f4f4"/><path d="M0 3.9H16.2M0 5.9H16.2M0 7.9H16.2M0 9.9H16.2M0 11.9H16.2M0 13.9H16.2M0 15.9H16.2M0 17.9H16.2M0 19.9H16.2M0 21.9H16.2M0 23.9H16.2M0 25.9H16.2M0 27.9H16.2M0 29.9H16.2M0 31.9H16.2M0 33.9H16.2M0 35.9H16.2M0 37.9H16.2M0 39.9H16.2M0 41.9H16.2M0 43.9H16.2M0 45.9H16.2M0 47.9H16.2M0 49.9H16.2M0 51.9H16.2" stroke="#909090" stroke-width="1" fill="none"/></svg>
<rect x="515.3" y="192.9" width="15.6" height="52.3" fill="none" stroke="#2a2a2a" stroke-width="0.6"/>
<path d="M523.1 192.6V186.75M519.13 186.75H527.07" stroke="#222" stroke-width="0.6" fill="none"/>
<path d="M523.1 245.2v2.1" stroke="#000" stroke-width="0.85"/>
<text transform="translate(522.6 181.3) rotate(0.03)" font-family='"Liberation Sans", sans-serif' font-weight="bold" font-size="4.1" text-anchor="middle" fill="#111">ns</text>
<svg x="539.5" y="194.4" width="16.3" height="50.8" overflow="hidden"><rect width="16.3" height="50.8" fill="#fdfdfd"/><path d="M1.6 1.6V50.8M3.99 1.6V50.8M6.39 1.6V50.8M8.78 1.6V50.8M11.18 1.6V50.8M13.57 1.6V50.8M15.97 1.6V50.8" stroke="#c4c4c4" stroke-width="0.9" stroke-dasharray="0.9 1.49" fill="none"/></svg>
<rect x="539.77" y="194.68" width="15.75" height="50.52" fill="none" stroke="#666" stroke-width="0.55"/>
<path d="M547.65 194.4V189.75M543.66 189.75H551.64" stroke="#222" stroke-width="0.6" fill="none"/>
<path d="M547.65 245.2v2.1" stroke="#000" stroke-width="0.85"/>
<text transform="translate(547 182.3) rotate(0.03)" font-family='"Liberation Sans", sans-serif' font-weight="bold" font-size="4.1" text-anchor="middle" fill="#111">ns</text>
<path d="M456.6 173.95V245.2H564.4" stroke="#000" stroke-width="0.9" fill="none"/>
<path d="M454.4 245.2H456.6" stroke="#000" stroke-width="0.9"/>
<text transform="translate(453.7 247.06) rotate(0.03)" font-family='"Liberation Sans", sans-serif' font-weight="bold" font-size="5.2" text-anchor="end" fill="#000">0.0</text>
<path d="M454.4 221.6H456.6" stroke="#000" stroke-width="0.9"/>
<text transform="translate(453.7 223.46) rotate(0.03)" font-family='"Liberation Sans", sans-serif' font-weight="bold" font-size="5.2" text-anchor="end" fill="#000">0.2</text>
<path d="M454.4 198H456.6" stroke="#000" stroke-width="0.9"/>
<text transform="translate(453.7 199.86) rotate(0.03)" font-family='"Liberation Sans", sans-serif' font-weight="bold" font-size="5.2" text-anchor="end" fill="#000">0.4</text>
<path d="M454.4 174.4H456.6" stroke="#000" stroke-width="0.9"/>
<text transform="translate(453.7 176.26) rotate(0.03)" font-family='"Liberation Sans", sans-serif' font-weight="bold" font-size="5.2" text-anchor="end" fill="#000">0.6</text>
<text transform="translate(436.1 209.8) rotate(-90)" font-family='"Liberation Serif", serif' font-weight="bold" font-size="5.95" text-anchor="middle" textLength="26.4" lengthAdjust="spacingAndGlyphs" fill="#000">Creatinine</text>
<text transform="translate(443 209.6) rotate(-90)" font-family='"Liberation Serif", serif' font-weight="bold" font-size="5.95" text-anchor="middle" textLength="58" lengthAdjust="spacingAndGlyphs" fill="#000">Concentration (mg/dl)</text>
</g>
<rect x="572" y="9.1" width="13.7" height="7.2" fill="#000"/>
<rect x="574.5" y="10.5" width="2.1" height="2.1" fill="#fff"/>
<rect x="578.1" y="10.5" width="2.1" height="2.1" fill="#fff"/>
<rect x="581.8" y="10.5" width="2.1" height="2.1" fill="#fff"/>
<rect x="576.3" y="12.6" width="2.1" height="2.1" fill="#fff"/>
<rect x="580" y="12.6" width="2.1" height="2.1" fill="#fff"/>
<text x="593.4" y="16.3" font-family='"Liberation Serif", serif' font-size="10.7" textLength="71.3" lengthAdjust="spacingAndGlyphs" fill="#000">Arthritic Control</text>
<rect x="572.6" y="28.2" width="12.5" height="6" fill="#fff" stroke="#000" stroke-width="1.2"/>
<path d="M575.9 28.6v5.2M580.4 28.6v5.2" stroke="#555" stroke-width="0.7"/>
<text x="593.4" y="34.8" font-family='"Liberation Serif", serif' font-size="10.7" textLength="87.6" lengthAdjust="spacingAndGlyphs" fill="#000">Low Dose of EDME</text>
<rect x="572.6" y="46.8" width="12.5" height="6" fill="#fff" stroke="#000" stroke-width="1.2"/>
<path d="M573 49.8h11.7" stroke="#666" stroke-width="0.8"/>
<text x="593.4" y="53.4" font-family='"Liberation Serif", serif' font-size="10.7" textLength="88.1" lengthAdjust="spacingAndGlyphs" fill="#000">High Dose of EDME</text>
<rect x="572.6" y="65.4" width="12.5" height="6" fill="#fff" stroke="#000" stroke-width="1.2"/>
<path d="M574.5 68.7h8.7" stroke="#999" stroke-width="0.8" stroke-dasharray="0.8 1.2"/>
<text x="593.4" y="72" font-family='"Liberation Serif", serif' font-size="10.7" textLength="65.7" lengthAdjust="spacingAndGlyphs" fill="#000">Vehicle Control</text>
</svg>
</body></html>
